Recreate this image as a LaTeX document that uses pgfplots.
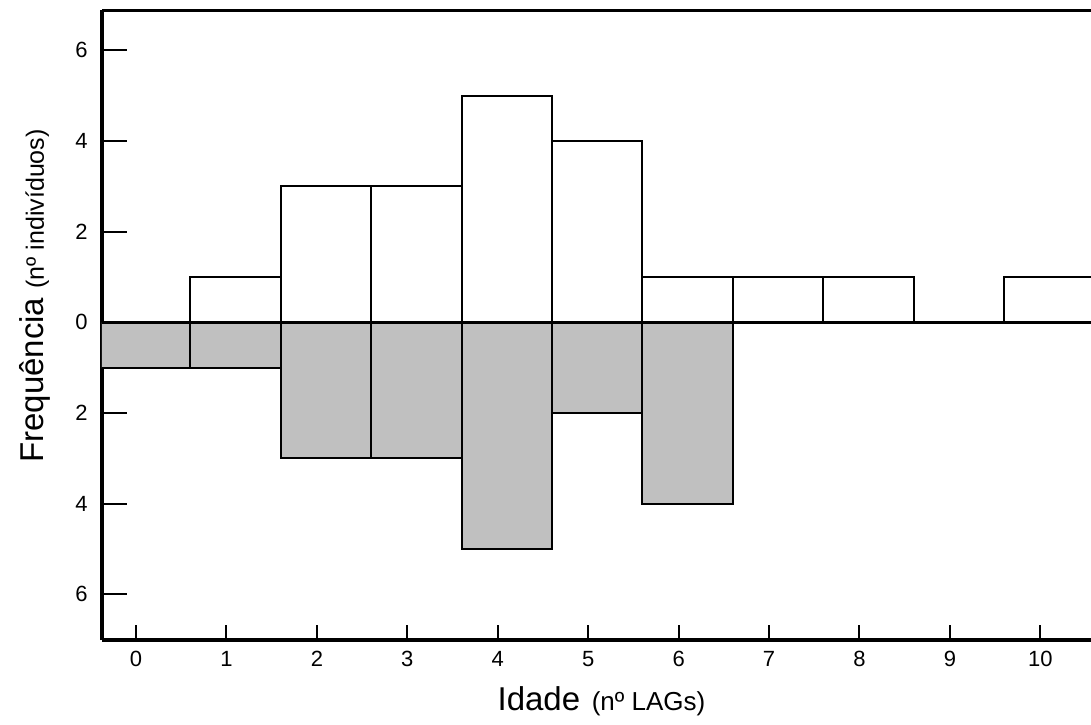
\documentclass[border=0pt]{standalone}
\usepackage{fontspec}
\setmainfont{Liberation Sans}
\usepackage{pgfplots}
\pgfplotsset{compat=1.18}
\definecolor{bargray}{RGB}{192,192,192}

\begin{document}
\begin{tikzpicture}
\begin{axis}[
  scale only axis, width=494.5pt, height=315pt,
  xmin=-0.376, xmax=10.56, ymin=-7.01, ymax=6.89,
  axis x line*=bottom, axis y line*=left,
  axis line style={line width=2pt, -},
  xtick={0,...,10}, ytick={-6,-4,...,6}, yticklabels={6,4,2,0,2,4,6},
  tick align=inside, tick style={black, line width=1pt},
  xtick style={/pgfplots/major tick length=7.5pt},
  ytick style={/pgfplots/major tick length=12.5pt},
  font=\fontsize{11}{13}\selectfont,
  /pgf/number format/assume math mode=true,
  xticklabel style={inner sep=0pt, anchor=north, yshift=-5.5pt},
  yticklabel style={inner sep=0pt, anchor=east, xshift=-7pt},
  xlabel={\fontsize{16.5}{20}\selectfont Idade\hspace{0.35em}\fontsize{13}{15}\selectfont(nº LAGs)},
  xlabel style={at={([yshift=-35pt]axis description cs:0.505,0)}, anchor=base, inner sep=0pt},
  ylabel={\fontsize{16.5}{20}\selectfont Frequência \fontsize{12.5}{15}\selectfont(nº indivíduos)},
  ylabel style={at={([xshift=-29pt]axis description cs:0,0.546)}, anchor=base, inner sep=0pt},
  clip=true,
]
\addplot[ybar, bar width=1, bar shift=0.1, fill=bargray, draw=black, line width=1pt]
  coordinates {(0,-1) (1,-1) (2,-3) (3,-3) (4,-5) (5,-2) (6,-4)};
\addplot[ybar, bar width=1, bar shift=0.1, fill=white, draw=black, line width=1pt]
  coordinates {(1,1) (2,3) (3,3) (4,5) (5,4) (6,1) (7,1) (8,1) (10,1)};
\addplot[black, line width=1.5pt] coordinates {(-0.376,0) (10.56,0)};
\draw[line width=2pt] (rel axis cs:0,1) -- (rel axis cs:1,1);
\coordinate (LL) at (rel axis cs:0,0);
\coordinate (UR) at (rel axis cs:1,1);
\end{axis}
\pgfresetboundingbox
\path ([xshift=-51pt,yshift=-42pt]LL) rectangle ([yshift=5pt]UR);
\end{tikzpicture}
\end{document}
